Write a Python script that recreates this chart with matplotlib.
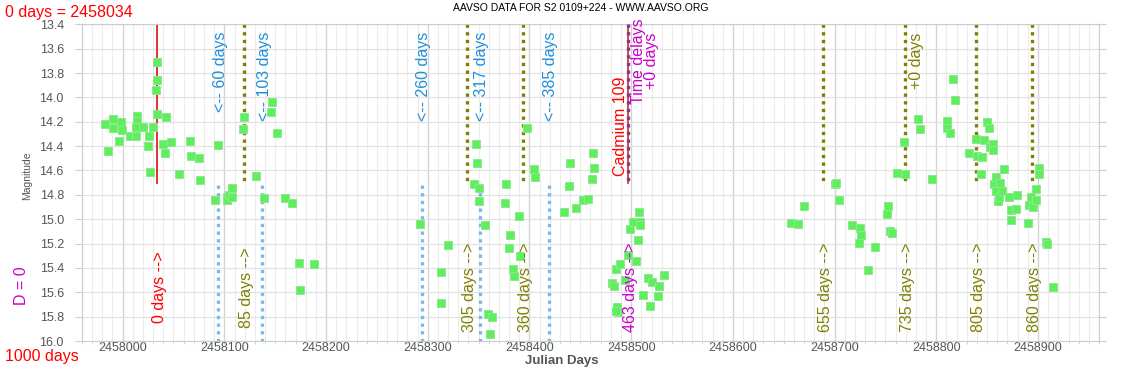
import matplotlib
matplotlib.use("Agg")
import matplotlib.pyplot as plt
from matplotlib.ticker import MultipleLocator, FormatStrFormatter

plt.rcParams['font.family'] = 'Liberation Sans'

# AAVSO observations (Julian Day, magnitude)
jd = [
    2457983, 2457991, 2457998, 2457991, 2457999, 2457986, 2457996, 2458007,
    2458013, 2458013.7, 2458013.7, 2458012.7, 2458020, 2458026, 2458024.5,
    2458030, 2458027, 2458034, 2458034, 2458033, 2458034, 2458042.5, 2458040,
    2458041.5, 2458048, 2458055, 2458066, 2458067, 2458075, 2458076, 2458094,
    2458091, 2458103, 2458103, 2458105, 2458108, 2458108, 2458118, 2458119,
    2458131, 2458139, 2458145.5, 2458147, 2458152, 2458160, 2458167, 2458173,
    2458174, 2458188,
    2458292.6, 2458313, 2458313, 2458320, 2458345, 2458347, 2458348.7,
    2458350, 2458350, 2458356, 2458359, 2458363, 2458361.5, 2458376, 2458377,
    2458380, 2458381, 2458383.7, 2458384.7, 2458390, 2458391, 2458397.5,
    2458404, 2458405, 2458434, 2458439, 2458440, 2458446, 2458452.5, 2458458,
    2458461, 2458462, 2458463,
    2458481.4, 2458482.7, 2458484.7, 2458486, 2458487, 2458485, 2458488.6,
    2458493.5, 2458497, 2458499, 2458502, 2458505, 2458506.5, 2458508,
    2458509, 2458509, 2458512, 2458517, 2458519, 2458520, 2458526, 2458527,
    2458532,
    2458656.8, 2458664, 2458670, 2458700, 2458701.7, 2458704, 2458717,
    2458724, 2458725, 2458726, 2458733, 2458740, 2458752, 2458753, 2458754,
    2458756, 2458761, 2458768, 2458769.5, 2458782, 2458783.6, 2458796,
    2458811, 2458811, 2458813, 2458816, 2458818, 2458831.7, 2458838.6,
    2458840, 2458843.6, 2458845, 2458846.5, 2458849.7, 2458851.7, 2458852.4,
    2458855.7, 2458855.7, 2458857, 2458859, 2458859, 2458860.5, 2458862,
    2458863, 2458865, 2458867, 2458871, 2458873, 2458873, 2458878, 2458879.6,
    2458890, 2458891, 2458893, 2458895, 2458898, 2458898, 2458901, 2458901,
    2458908, 2458909, 2458914.6,
]
mag = [
    14.22, 14.18, 14.20, 14.25, 14.27, 14.44, 14.36, 14.32,
    14.32, 14.15, 14.19, 14.245, 14.24, 14.32, 14.40,
    14.24, 14.61, 13.71, 13.86, 13.94, 14.14, 14.16, 14.385,
    14.455, 14.37, 14.63, 14.36, 14.48, 14.495, 14.68, 14.39,
    14.84, 14.82, 14.84, 14.80, 14.74, 14.82, 14.26, 14.16,
    14.645, 14.83, 14.12, 14.04, 14.29, 14.83, 14.87, 15.36,
    15.58, 15.365,
    15.04, 15.43, 15.685, 15.21, 14.71, 14.38, 14.535,
    14.74, 14.85, 15.05, 15.78, 15.805, 15.94, 14.865, 14.71,
    15.235, 15.13, 15.41, 15.47, 14.97, 15.30, 14.25,
    14.59, 14.65, 14.94, 14.73, 14.54, 14.91, 14.84, 14.835,
    14.67, 14.455, 14.58,
    15.52, 15.545, 15.41, 15.72, 15.765, 15.75, 15.37,
    15.50, 15.29, 15.08, 15.02, 15.34, 15.17, 14.94,
    15.02, 15.05, 15.62, 15.485, 15.71, 15.515, 15.63, 15.55,
    15.46,
    15.03, 15.04, 14.89, 14.71, 14.705, 14.84, 15.05,
    15.195, 15.07, 15.13, 15.415, 15.23, 14.96, 14.89, 15.10,
    15.115, 14.62, 14.365, 14.63, 14.18, 14.26, 14.67,
    14.19, 14.25, 14.295, 13.85, 14.02, 14.46, 14.34,
    14.48, 14.625, 14.49, 14.35, 14.20, 14.25, 14.41,
    14.38, 14.43, 14.71, 14.65, 14.77, 14.85, 14.815,
    14.70, 14.77, 14.59, 14.815, 14.925, 15.01, 14.92, 14.80,
    15.03, 14.885, 14.815, 14.90, 14.755, 14.84, 14.58, 14.625,
    15.185, 15.20, 15.56,
]

jd0 = 2458034
olive_days = [85, 305, 360, 655, 735, 805, 860]
blue_days = [60, 103, 260, 317, 385]
cadmium_day = 463

OLIVE = '#808000'
BLUE = '#7db9e6'
BLUE_TXT = '#1f8fd8'
RED = '#ff0000'
MAGENTA = '#cc00cc'
GRAY = '#555555'

fig = plt.figure(figsize=(11.35, 3.67), dpi=100)
ax = fig.add_axes([0.0722, 0.0708, 0.8961, 0.8630])

ax.set_xlim(2457960, 2458960)
ax.set_ylim(16.0, 13.4)

# grid
ax.xaxis.set_major_locator(MultipleLocator(100))
ax.xaxis.set_minor_locator(MultipleLocator(10))
ax.yaxis.set_major_locator(MultipleLocator(0.2))
ax.grid(which='major', axis='x', color='#d4d4d4', lw=1.0)
ax.grid(which='minor', axis='x', color='#ececec', lw=0.8)
ax.grid(which='major', axis='y', color='#e2e2e2', lw=0.9)
ax.set_axisbelow(True)
ax.yaxis.set_major_formatter(FormatStrFormatter('%.1f'))
ax.xaxis.set_major_formatter(FormatStrFormatter('%d'))
ax.tick_params(axis='both', which='both', colors='#cccccc', labelcolor=GRAY,
               labelsize=9, direction='out', right=True)
ax.tick_params(axis='x', which='major', length=2, pad=-1)
ax.tick_params(axis='x', which='minor', length=2)
ax.tick_params(axis='y', length=5, pad=8)
for s in ax.spines.values():
    s.set_color('#cccccc')

# reference lines
ax.plot([jd0, jd0], [13.4, 14.7], color='#dd2222', lw=1.3, zorder=2)
for d in olive_days:
    ax.plot([jd0 + d] * 2, [13.4, 14.7], color=OLIVE, lw=2.4,
            ls=(0, (1, 1.3)), zorder=2)
for d in blue_days:
    ax.plot([jd0 + d] * 2, [14.72, 16.0], color=BLUE, lw=2.4,
            ls=(0, (1, 1.3)), zorder=2)
ax.plot([jd0 + cadmium_day] * 2, [13.4, 14.7], color='#dd2222', lw=1.2, zorder=2)
ax.plot([jd0 + cadmium_day] * 2, [13.4, 14.7], color='#7a3c90', lw=2.4,
        ls=(0, (1, 1.3)), zorder=3)

# data
ax.plot(jd, mag, 's', ms=5.8, color='#5eee5e', mec='#8ee88e', mew=0.7,
        ls='none', zorder=4)

# labels on the lines
for d in blue_days:
    ax.text(jd0 + d + 2, 13.46, f'<-- {d} days', rotation=90, color=BLUE_TXT,
            fontsize=11.5, ha='center', va='top', zorder=5)
ax.text(jd0 + 2, 15.56, '0 days -->', rotation=90, color=RED,
        fontsize=11.5, ha='center', va='center', zorder=5)
for d in olive_days:
    ax.text(jd0 + d + 2.5, 15.56, f'{d} days -->', rotation=90, color=OLIVE,
            fontsize=11.5, ha='center', va='center', zorder=5)
ax.text(jd0 + cadmium_day + 2, 15.56, f'{cadmium_day} days -->', rotation=90,
        color=MAGENTA, fontsize=11.5, ha='center', va='center', zorder=5)
ax.text(jd0 + cadmium_day, 14.24, 'Cadmium 109', rotation=90, color=RED,
        fontsize=11.5, ha='right', va='center', zorder=5)
ax.text(jd0 + cadmium_day + 3, 13.70, 'Time delays\n+0 days', rotation=90,
        color=MAGENTA, fontsize=11.5, ha='left', va='center',
        multialignment='center', linespacing=0.85, zorder=5, clip_on=False)
ax.text(jd0 + 735 + 4, 13.47, '+0 days', rotation=90, color=OLIVE,
        fontsize=11.5, ha='left', va='top', zorder=5)

# figure texts
fig.text(581 / 1135, 1 - 8 / 367, 'AAVSO DATA FOR S2 0109+224 - WWW.AAVSO.ORG',
         fontsize=7.5, ha='center', va='center', color='black')
fig.text(5 / 1135, 1 - 12 / 367, '0 days = 2458034', fontsize=11.5,
         color=RED, ha='left', va='center')
fig.text(5 / 1135, 1 - 356 / 367, '1000 days', fontsize=11.5,
         color=RED, ha='left', va='center')
fig.text(22 / 1135, 1 - 286 / 367, 'D = 0', fontsize=11.5, rotation=90,
         color=MAGENTA, ha='center', va='center')
fig.text(27 / 1135, 1 - 176 / 367, 'Magnitude', fontsize=7.5, rotation=90,
         color=GRAY, ha='center', va='center')
fig.text(562 / 1135, 1 - 361 / 367, 'Julian Days', fontsize=9.5,
         fontweight='bold', color=GRAY, ha='center', va='center')

fig.savefig('out.png', dpi=100)
